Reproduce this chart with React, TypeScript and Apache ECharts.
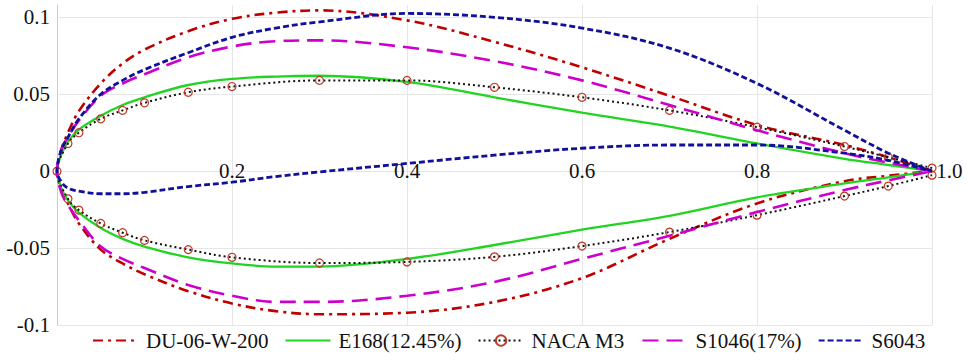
import React, { useEffect, useRef } from "react";
import * as echarts from "echarts";

// chord stations shared by the four smooth profiles
const STATIONS = [0, 0.005, 0.0125, 0.025, 0.05, 0.075, 0.1, 0.15, 0.2, 0.25, 0.3, 0.4, 0.5, 0.6, 0.7, 0.8, 0.9, 0.95, 1.0];

const DU_UPPER = [0, 0.014, 0.025, 0.039, 0.057, 0.070, 0.079, 0.091, 0.099, 0.103, 0.1045, 0.098, 0.084, 0.0675, 0.049, 0.030, 0.017, 0.009, 0];
const DU_LOWER = [0, -0.012, -0.021, -0.034, -0.051, -0.060, -0.067, -0.078, -0.086, -0.091, -0.093, -0.092, -0.085, -0.0695, -0.044, -0.021, -0.0065, -0.003, 0];

const E168_UPPER = [0, 0.011, 0.019, 0.027, 0.036, 0.043, 0.048, 0.056, 0.060, 0.0615, 0.062, 0.058, 0.048, 0.038, 0.029, 0.018, 0.008, 0.004, 0];
const E168_LOWER = [0, -0.011, -0.019, -0.027, -0.037, -0.044, -0.049, -0.056, -0.060, -0.062, -0.062, -0.057, -0.048, -0.038, -0.029, -0.017, -0.008, -0.004, 0];

const S1046_UPPER = [0, 0.014, 0.022, 0.033, 0.049, 0.057, 0.063, 0.074, 0.081, 0.0845, 0.085, 0.0805, 0.0715, 0.059, 0.043, 0.0266, 0.0117, 0.0055, 0];
const S1046_LOWER = [0, -0.014, -0.022, -0.032, -0.049, -0.057, -0.063, -0.074, -0.081, -0.085, -0.085, -0.081, -0.072, -0.057, -0.042, -0.0266, -0.0123, -0.006, 0];

const S6043_UPPER = [0, 0.014, 0.022, 0.034, 0.050, 0.059, 0.066, 0.077, 0.087, 0.093, 0.097, 0.1025, 0.100, 0.093, 0.080, 0.057, 0.0266, 0.0117, 0];
const S6043_LOWER = [0, -0.007, -0.011, -0.013, -0.0147, -0.0147, -0.0138, -0.010, -0.0072, -0.0035, -0.0005, 0.005, 0.0104, 0.0149, 0.017, 0.017, 0.0117, 0.007, 0];

// NACA M3 tabulated stations (shown with markers)
const NACA_X = [0, 0.0125, 0.025, 0.05, 0.075, 0.1, 0.15, 0.2, 0.3, 0.4, 0.5, 0.6, 0.7, 0.8, 0.9, 0.95, 1.0];
const NACA_UPPER = [0, 0.018, 0.025, 0.034, 0.0395, 0.0444, 0.0513, 0.055, 0.059, 0.059, 0.0545, 0.048, 0.0395, 0.0286, 0.016, 0.009, 0.002];
const NACA_LOWER = [0, -0.018, -0.0253, -0.034, -0.040, -0.045, -0.051, -0.056, -0.0597, -0.059, -0.0557, -0.0487, -0.0396, -0.0286, -0.0162, -0.0097, -0.0026];

const SERIES_NAMES = ["DU-06-W-200", "E168(12.45%)", "NACA M3", "S1046(17%)", "S6043"];
const Y_TICKS = [-0.1, -0.05, 0, 0.05, 0.1];
const X_TICKS = [0, 0.2, 0.4, 0.6, 0.8, 1.0];
const X_TICK_LABELS = ["0", "0.2", "0.4", "0.6", "0.8", "1.0"];

function loop(xs: number[], up: number[], lo: number[]): number[][] {
  const pts: number[][] = [];
  for (let i = xs.length - 1; i >= 0; i--) pts.push([xs[i], up[i]]);
  for (let i = 1; i < xs.length; i++) pts.push([xs[i], lo[i]]);
  return pts;
}

const FONT = '"Liberation Serif", "Times New Roman", Times, "DejaVu Serif", serif';

export default function App() {
  const ref = useRef<HTMLDivElement>(null);
  useEffect(() => {
    if (!ref.current) return;
    const chart = echarts.init(ref.current, undefined, { renderer: "svg" });
    const base = { type: "line", smooth: 0.35, symbol: "none", showSymbol: false, clip: false };
    const hiddenMarker = { opacity: 0 };
    const last = X_TICKS.length - 1;
    const gridTop = 5;
    const gridBottom = 35;
    const plotH = 360 - gridTop - gridBottom;
    const yMin = Y_TICKS[0];
    const yMax = 0.108;
    // distance from the bottom edge of the grid up to the y = 0 line
    const zeroOffset = (plotH * (0 - yMin)) / (yMax - yMin);
    chart.setOption({
      animation: false,
      backgroundColor: "#ffffff",
      textStyle: { fontFamily: FONT },
      grid: { left: 57, right: 35, top: gridTop, bottom: gridBottom },
      legend: {
        data: [
          { name: SERIES_NAMES[0], itemStyle: hiddenMarker },
          { name: SERIES_NAMES[1], itemStyle: hiddenMarker },
          { name: SERIES_NAMES[2] },
          { name: SERIES_NAMES[3], itemStyle: hiddenMarker },
          { name: SERIES_NAMES[4], itemStyle: hiddenMarker },
        ],
        left: 87,
        top: 325,
        itemWidth: 45,
        itemHeight: 13,
        itemGap: 16,
        selectedMode: false,
        textStyle: { fontFamily: FONT, fontSize: 21, color: "#111", padding: [0, 0, 0, 3] },
      },
      xAxis: {
        type: "value",
        min: X_TICKS[0],
        max: X_TICKS[last],
        interval: 0.2,
        axisLine: { show: false },
        axisTick: { show: false },
        splitLine: { show: true, lineStyle: { color: "#e6e6e6", width: 1 } },
        axisLabel: {
          show: true,
          fontFamily: FONT,
          fontSize: 21,
          color: "#111",
          margin: -zeroOffset,
          verticalAlign: "middle",
          showMinLabel: false,
          showMaxLabel: true,
          alignMaxLabel: "left",
          padding: [0, 0, 0, 0],
          hideOverlap: false,
          formatter: (v: number) => {
            const i = X_TICKS.findIndex((k) => Math.abs(k - v) < 1e-9);
            return i < 0 ? "" : (i === last ? "\u2009" : "") + X_TICK_LABELS[i];
          },
        },
      },
      yAxis: {
        type: "value",
        min: yMin,
        max: yMax,
        interval: 0.05,
        axisLine: { show: true, onZero: false, lineStyle: { color: "#cccccc", width: 1 } },
        axisTick: { show: false },
        splitLine: {
          show: true,
          lineStyle: { color: ["#e6e6e6", "#e6e6e6", "#e6e6e6", "#e6e6e6", "#e6e6e6", "rgba(0,0,0,0)"], width: 1 },
        },
        axisLabel: {
          fontFamily: FONT,
          fontSize: 21,
          color: "#111",
          margin: 7,
          showMaxLabel: false,
          formatter: (v: number) => {
            const t = Y_TICKS.find((k) => Math.abs(k - v) < 1e-9);
            return t === undefined ? "" : String(t);
          },
        },
      },
      series: [
        {
          ...base,
          name: SERIES_NAMES[0],
          data: loop(STATIONS, DU_UPPER, DU_LOWER),
          color: "#c00000",
          lineStyle: { color: "#c00000", width: 2.6, type: [10, 5, 3, 5] },
          z: 2,
        },
        {
          ...base,
          name: SERIES_NAMES[1],
          data: loop(STATIONS, E168_UPPER, E168_LOWER),
          color: "#22d422",
          lineStyle: { color: "#22d422", width: 2.3, type: "solid" },
          z: 3,
        },
        {
          ...base,
          name: SERIES_NAMES[2],
          data: loop(NACA_X, NACA_UPPER, NACA_LOWER),
          symbol: "circle",
          showSymbol: true,
          symbolSize: 8,
          color: "#111",
          lineStyle: { color: "#111111", width: 2, type: [2, 3] },
          itemStyle: { color: "rgba(255,255,255,0)", borderColor: "#c0392b", borderWidth: 1.2 },
          z: 4,
        },
        {
          ...base,
          name: SERIES_NAMES[3],
          data: loop(STATIONS, S1046_UPPER, S1046_LOWER),
          color: "#cc00cc",
          lineStyle: { color: "#cc00cc", width: 2.6, type: [16, 8] },
          z: 5,
        },
        {
          ...base,
          name: SERIES_NAMES[4],
          data: loop(STATIONS, S6043_UPPER, S6043_LOWER),
          color: "#10109a",
          lineStyle: { color: "#10109a", width: 2.8, type: [6, 3] },
          z: 6,
        },
      ],
    });
    return () => chart.dispose();
  }, []);
  return (
    <div
      ref={ref}
      style={{ position: "fixed", left: 0, top: 0, width: 967, height: 360, background: "#fff" }}
    />
  );
}
